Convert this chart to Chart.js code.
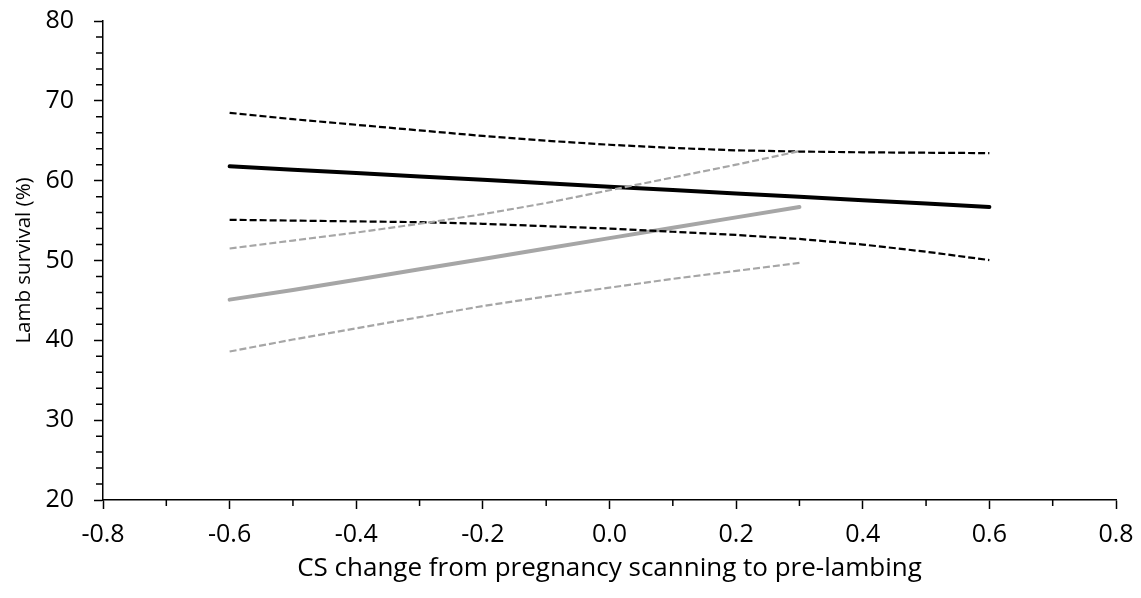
<!DOCTYPE html>
<html>
<head>
<meta charset="utf-8">
<title>Lamb survival vs CS change</title>
<script src="https://cdn.jsdelivr.net/npm/chart.js@4.4.1/dist/chart.umd.min.js"></script>
<style>
  html, body { margin: 0; padding: 0; background: #fff; }
  #wrap { width: 1141px; height: 598px; }
</style>
</head>
<body>
<div id="wrap"><canvas id="lambChart"></canvas></div>
<script>
/* ===== Data ===== */
// black group: CS change -0.6 .. 0.6
const csBlack        = [-0.6, -0.5, -0.4, -0.3, -0.2, -0.1, 0.0, 0.1, 0.2, 0.3, 0.4, 0.5, 0.6];
const survBlack      = [61.8, 61.38, 60.95, 60.53, 60.1, 59.68, 59.25, 58.83, 58.4, 57.98, 57.55, 57.13, 56.7];
const survBlackUpper = [68.5, 67.7, 67.0, 66.3, 65.6, 65.0, 64.5, 64.1, 63.8, 63.65, 63.55, 63.5, 63.45];
const survBlackLower = [55.1, 55.0, 54.9, 54.8, 54.6, 54.3, 54.0, 53.6, 53.2, 52.7, 52.0, 51.1, 50.05];

// grey group: CS change -0.6 .. 0.3
const csGrey        = [-0.6, -0.5, -0.4, -0.3, -0.2, -0.1, 0.0, 0.1, 0.2, 0.3];
const survGrey      = [45.1, 46.3, 47.6, 48.9, 50.2, 51.5, 52.8, 54.1, 55.4, 56.7];
const survGreyUpper = [51.5, 52.5, 53.5, 54.6, 55.8, 57.2, 58.8, 60.4, 62.0, 63.7];
const survGreyLower = [38.6, 40.1, 41.5, 42.9, 44.3, 45.5, 46.6, 47.7, 48.7, 49.7];

// axis ticks
const xTickValues = [-0.8, -0.6, -0.4, -0.2, 0.0, 0.2, 0.4, 0.6, 0.8];
const xTickLabels = ['-0.8', '-0.6', '-0.4', '-0.2', '0.0', '0.2', '0.4', '0.6', '0.8'];
const yTickValues = [20, 30, 40, 50, 60, 70, 80];
const yTickLabels = ['20', '30', '40', '50', '60', '70', '80'];

const FONT = "'Open Sans', 'DejaVu Sans', sans-serif";
const GREY = '#a6a6a6';

function toPoints(xs, ys) {
  return xs.map((x, i) => ({ x: x, y: ys[i] }));
}

// short minor tick marks between the major ones (Excel style)
const minorTicks = {
  id: 'minorTicks',
  afterDraw(chart) {
    const { ctx, chartArea, scales } = chart;
    ctx.save();
    ctx.strokeStyle = '#000';
    ctx.lineWidth = 1.5;
    ctx.beginPath();
    for (let i = 0; i < xTickValues.length - 1; i++) {
      const px = scales.x.getPixelForValue((xTickValues[i] + xTickValues[i + 1]) / 2);
      ctx.moveTo(px, chartArea.bottom);
      ctx.lineTo(px, chartArea.bottom + 6);
    }
    for (let i = 0; i < yTickValues.length - 1; i++) {
      const step = (yTickValues[i + 1] - yTickValues[i]) / 5;
      for (let k = 1; k < 5; k++) {
        const py = scales.y.getPixelForValue(yTickValues[i] + step * k);
        ctx.moveTo(chartArea.left - 7, py);
        ctx.lineTo(chartArea.left, py);
      }
    }
    ctx.stroke();
    ctx.restore();
  },
};

function solid(label, xs, ys, color, order) {
  return {
    label: label,
    data: toPoints(xs, ys),
    borderColor: color,
    borderWidth: 4,
    borderCapStyle: 'round',
    pointRadius: 0,
    fill: false,
    order: order,
  };
}
function dashed(label, xs, ys, color, order) {
  return {
    label: label,
    data: toPoints(xs, ys),
    borderColor: color,
    borderWidth: 2.2,
    borderDash: [7, 3],
    borderCapStyle: 'butt',
    pointRadius: 0,
    fill: false,
    order: order,
  };
}

new Chart(document.getElementById('lambChart'), {
  type: 'line',
  data: {
    datasets: [
      solid('Black', csBlack, survBlack, '#000', 6),
      solid('Grey', csGrey, survGrey, GREY, 5),
      dashed('Black upper', csBlack, survBlackUpper, '#000', 4),
      dashed('Black lower', csBlack, survBlackLower, '#000', 3),
      dashed('Grey upper', csGrey, survGreyUpper, GREY, 2),
      dashed('Grey lower', csGrey, survGreyLower, GREY, 1),
    ],
  },
  options: {
    responsive: true,
    maintainAspectRatio: false,
    animation: false,
    layout: { padding: { top: 21, right: 25, left: 0, bottom: 0 } },
    plugins: { legend: { display: false }, tooltip: { enabled: false } },
    scales: {
      x: {
        type: 'linear',
        min: -0.8,
        max: 0.8,
        afterBuildTicks: s => { s.ticks = xTickValues.map(v => ({ value: v })); },
        afterFit: s => { s.height = 98; s.paddingLeft = 0; s.paddingRight = 0; },
        grid: { drawOnChartArea: false, drawTicks: true, tickLength: 9, tickColor: '#000', tickWidth: 1.5 },
        border: { display: true, color: '#000', width: 1.5 },
        ticks: {
          color: '#000',
          padding: 11,
          maxRotation: 0,
          autoSkip: false,
          font: { family: FONT, size: 25 },
          callback: (v, i) => xTickLabels[i],
        },
        title: {
          display: true,
          text: 'CS change from pregnancy scanning to pre-lambing',
          color: '#000',
          font: { family: FONT, size: 26 },
          padding: { top: 0, bottom: 14 },
        },
      },
      y: {
        min: 20,
        max: 80,
        afterBuildTicks: s => { s.ticks = yTickValues.map(v => ({ value: v })); },
        afterFit: s => { s.width = 103; s.paddingTop = 0; s.paddingBottom = 0; },
        grid: { drawOnChartArea: false, drawTicks: true, tickLength: 9, tickColor: '#000', tickWidth: 1.5 },
        border: { display: true, color: '#000', width: 1.5 },
        ticks: {
          color: '#000',
          padding: 20,
          autoSkip: false,
          font: { family: FONT, size: 25 },
          callback: (v, i) => yTickLabels[i],
        },
        title: {
          display: true,
          text: 'Lamb survival (%)',
          color: '#000',
          font: { family: FONT, size: 20.5 },
          padding: { top: 12, bottom: 0 },
        },
      },
    },
  },
  plugins: [minorTicks],
});
</script>
</body>
</html>
